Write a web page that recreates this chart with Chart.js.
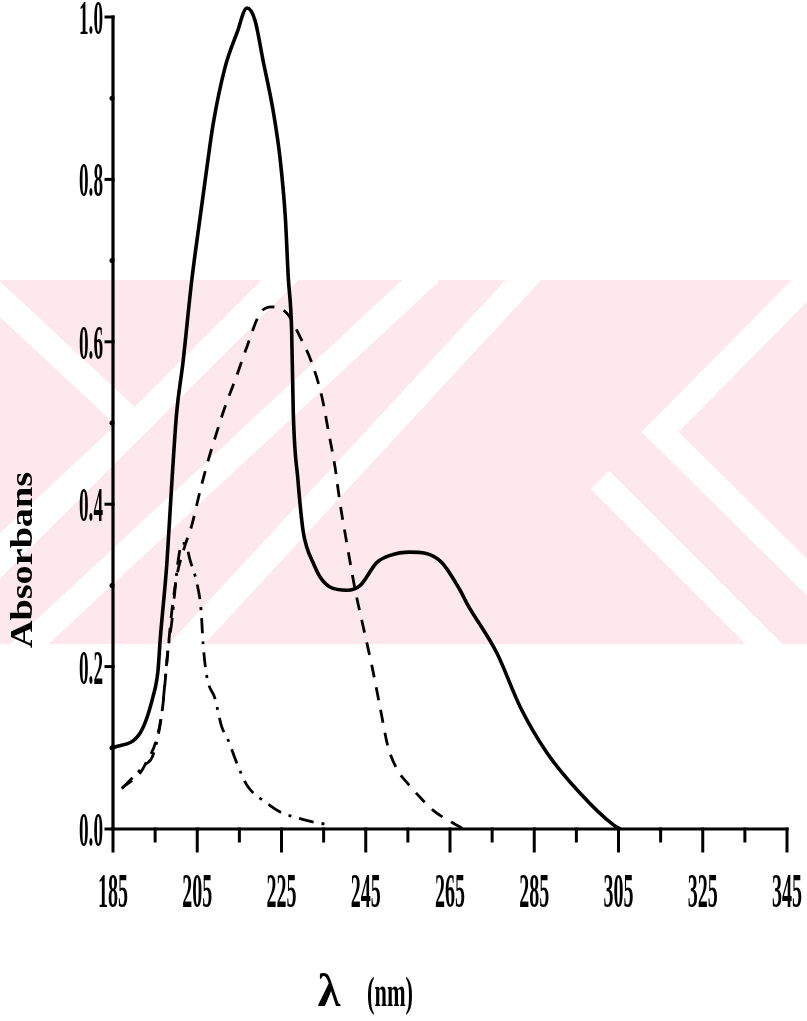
<!DOCTYPE html>
<html>
<head>
<meta charset="utf-8">
<script src="https://cdn.jsdelivr.net/npm/chart.js@4/dist/chart.umd.min.js"></script>
<style>
  html, body { margin: 0; padding: 0; background: #fff; }
  #wrap { width: 807px; height: 1021px; position: relative; }
</style>
</head>
<body>
<div id="wrap"><canvas id="spectrum" width="807" height="1021"></canvas></div>
<script>
// Absorption spectra, values

const xTicks = [185, 205, 225, 245, 265, 285, 305, 325, 345];
const xMinor = [195, 215, 235, 255, 275, 295, 315, 335];
const yTicks = [0.0, 0.2, 0.4, 0.6, 0.8, 1.0];
const yMinor = [0.1, 0.3, 0.5, 0.7, 0.9];

// solid curve
const solidNm = [185, 191.4, 194.5, 195.7, 196.2, 197.8, 198.9, 200.1, 201.6, 203.7, 205.7, 207.3, 208.8, 211.6, 214.4, 216.8,
  218.7, 220.6, 223.0, 224.7, 225.9, 226.6, 227.4, 227.8, 228.9, 230.1, 231.0, 232.5, 234.2, 236.5, 240.5, 243.7, 247.6,
  250.8, 255.5, 262.7, 267.4, 269.0, 276.1, 281.7, 288.0, 295.9, 303.8, 305.5];
const solidAbs = [0.100, 0.118, 0.163, 0.196, 0.233, 0.328, 0.421, 0.512, 0.574, 0.676, 0.754, 0.815, 0.869, 0.938, 0.980, 1.011,
  0.996, 0.947, 0.885, 0.824, 0.754, 0.680, 0.615, 0.512, 0.430, 0.368, 0.347, 0.328, 0.310, 0.298, 0.294, 0.300, 0.328,
  0.337, 0.341, 0.330, 0.294, 0.278, 0.217, 0.150, 0.094, 0.044, 0.005, 0.0];

// dashed curve
const dashNm = [187.1, 192.6, 196.6, 198.1, 199.0, 200.2, 201.9, 203.7, 205.7, 207.6, 209.6, 211.6, 214.0, 216.8, 219.9, 222.7,
  226.3, 229.4, 232.2, 234.6, 236.1, 237.7, 238.9, 240.5, 242.5, 244.4, 246.5, 248.4, 250.3, 252.5, 254.8, 257.9, 261.0, 265.8, 267.9];
const dashAbs = [0.050, 0.079, 0.143, 0.223, 0.270, 0.313, 0.346, 0.374, 0.417, 0.454, 0.488, 0.520, 0.553, 0.594, 0.635, 0.643,
  0.635, 0.606, 0.574, 0.532, 0.491, 0.446, 0.401, 0.352, 0.294, 0.249, 0.200, 0.150, 0.101, 0.073, 0.057, 0.039, 0.023, 0.007, 0.001];

// dash-dot curve
const dotNm = [187.1, 189.8, 192.6, 194.5, 196.6, 198.1, 199.0, 199.7, 200.4, 201.4, 202.3, 203.3, 204.9, 205.9, 206.4, 207.3,
  209.2, 210.8, 212.3, 214.4, 216.8, 221.5, 224.7, 228.6, 234.2, 236.5];
const dotAbs = [0.050, 0.064, 0.079, 0.091, 0.143, 0.223, 0.257, 0.294, 0.328, 0.352, 0.350, 0.331, 0.303, 0.270, 0.227, 0.187,
  0.161, 0.126, 0.110, 0.081, 0.054, 0.032, 0.021, 0.014, 0.007, 0.006];

const toPoints = (xs, ys) => xs.map((x, i) => ({ x, y: ys[i] }));

// draws text squeezed to a given width (the scan uses a condensed face)
function fitText(ctx, text, x, y, width, font, align) {
  ctx.save();
  ctx.font = font;
  const w = ctx.measureText(text).width;
  const sx = width / w;
  ctx.translate(x, y);
  ctx.scale(sx, 1);
  ctx.textAlign = align;
  ctx.fillText(text, 0, 0);
  ctx.restore();
}

// pink watermark band behind the plot
const watermark = {
  id: "watermark",
  beforeDraw(chart) {
    const ctx = chart.ctx;
    ctx.save();
    ctx.fillStyle = "#fff";
    ctx.fillRect(0, 0, chart.width, chart.height);
    ctx.beginPath();
    ctx.rect(0, 280, chart.width, 364);
    ctx.clip();
    ctx.fillStyle = "#fde9ed";
    ctx.fillRect(0, 280, chart.width, 364);
    ctx.strokeStyle = "#fff";
    ctx.lineWidth = 26;
    ctx.lineCap = "butt";
    const stripes = [
      [[-10, 290], [135, 425], [-10, 560]],
      [[300, 260], [-80, 640]],
      [[430, 272], [10, 662]],
      [[540, 262], [170, 662]],
      [[820, 270], [660, 432], [820, 590]],
      [[600, 480], [780, 660]],
    ];
    stripes.forEach((s) => {
      ctx.beginPath();
      ctx.moveTo(s[0][0], s[0][1]);
      s.slice(1).forEach((p) => ctx.lineTo(p[0], p[1]));
      ctx.stroke();
    });
    ctx.restore();
  },
};

// axes, ticks and labels in the style of the original plot
const axesStyle = {
  id: "axesStyle",
  afterDatasetsDraw(chart) {
    const ctx = chart.ctx;
    const xs = chart.scales.x;
    const ys = chart.scales.y;
    const x0 = xs.getPixelForValue(185);
    const x1 = xs.getPixelForValue(345);
    const y0 = ys.getPixelForValue(0);
    const y1 = ys.getPixelForValue(1);

    ctx.save();
    ctx.strokeStyle = "#000";
    ctx.fillStyle = "#000";
    ctx.lineCap = "square";

    // axis lines
    ctx.lineWidth = 3.2;
    ctx.beginPath();
    ctx.moveTo(x0, y1);
    ctx.lineTo(x0, y0);
    ctx.lineTo(x1, y0);
    ctx.stroke();

    // x ticks
    ctx.lineWidth = 3;
    xTicks.forEach((v) => {
      const px = xs.getPixelForValue(v);
      ctx.beginPath();
      ctx.moveTo(px, y0);
      ctx.lineTo(px, y0 + 22);
      ctx.stroke();
      fitText(ctx, String(v), px, y0 + 78, 30, "bold 48px 'Liberation Serif'", "center");
    });
    xMinor.forEach((v) => {
      const px = xs.getPixelForValue(v);
      ctx.beginPath();
      ctx.moveTo(px, y0);
      ctx.lineTo(px, y0 + 12);
      ctx.stroke();
    });

    // y ticks
    yTicks.forEach((v) => {
      const py = ys.getPixelForValue(v);
      ctx.beginPath();
      ctx.moveTo(x0 - 7, py);
      ctx.lineTo(x0, py);
      ctx.stroke();
      fitText(ctx, v.toFixed(1), x0 - 10, py + 17, 24, "bold 48px 'Liberation Serif'", "right");
    });
    yMinor.forEach((v) => {
      const py = ys.getPixelForValue(v);
      ctx.beginPath();
      ctx.arc(x0 - 1, py, 2.5, 0, Math.PI * 2);
      ctx.fill();
    });

    // axis titles
    ctx.save();
    ctx.translate(32, 560);
    ctx.rotate(-Math.PI / 2);
    fitText(ctx, "Absorbans", 0, 0, 176, "bold 32px 'Liberation Serif'", "center");
    ctx.restore();

    ctx.font = "bold 46px 'Liberation Serif'";
    ctx.textAlign = "center";
    ctx.fillText("λ", 329, 1006);
    fitText(ctx, "(nm)", 390, 1006, 46, "bold 42px 'Liberation Serif'", "center");

    ctx.restore();
  },
};

const ctx = document.getElementById("spectrum").getContext("2d");

new Chart(ctx, {
  type: "line",
  data: {
    datasets: [
      {
        label: "solid",
        data: toPoints(solidNm, solidAbs),
        borderColor: "#000",
        borderWidth: 3.6,
        pointRadius: 0,
        cubicInterpolationMode: "monotone",
        clip: false,
      },
      {
        label: "dashed",
        data: toPoints(dashNm, dashAbs),
        borderColor: "#000",
        borderWidth: 2.8,
        borderDash: [13, 10],
        pointRadius: 0,
        cubicInterpolationMode: "monotone",
        clip: false,
      },
      {
        label: "dash-dot",
        data: toPoints(dotNm, dotAbs),
        borderColor: "#000",
        borderWidth: 2.8,
        borderDash: [15, 8, 3, 8],
        pointRadius: 0,
        cubicInterpolationMode: "monotone",
        clip: false,
      },
    ],
  },
  options: {
    responsive: false,
    animation: false,
    layout: { padding: { left: 113, right: 20, top: 17, bottom: 192 } },
    plugins: {
      legend: { display: false },
      tooltip: { enabled: false },
    },
    scales: {
      x: {
        type: "linear",
        min: 185,
        max: 345,
        grid: { display: false },
        border: { display: false },
        ticks: { display: false },
        afterFit: (s) => { s.height = 0; },
      },
      y: {
        min: 0,
        max: 1,
        grid: { display: false },
        border: { display: false },
        ticks: { display: false },
        afterFit: (s) => { s.width = 0; },
      },
    },
  },
  plugins: [watermark, axesStyle],
});
</script>
</body>
</html>
